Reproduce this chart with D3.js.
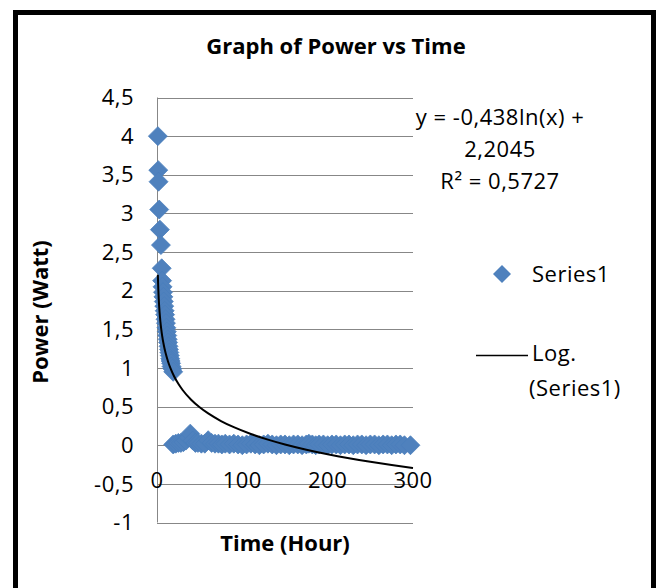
<!DOCTYPE html>
<html>
<head>
<meta charset="utf-8">
<title>Graph of Power vs Time</title>
<style>
  body { margin: 0; background: #fff; }
  text { font-family: "Open Sans", "Noto Sans", sans-serif; fill: #000; font-size: 22px; letter-spacing: 0.5px; }
  .grid line { stroke: #878787; stroke-width: 1px; }
  .title, .axisTitle { font-weight: bold; letter-spacing: 0; }
</style>
</head>
<body>
<script src="https://cdn.jsdelivr.net/npm/d3@7"></script>
<script>

// measured points: time (hour) and power (watt)
var timeTop  = [1, 1.5, 1.8, 2.6, 3.4, 4.6, 5.5];
var powerTop = [4, 3.56, 3.41, 3.05, 2.79, 2.59, 2.29];

var timeDrop  = [6, 6.5, 7, 7.5, 8, 8.5, 9, 9.5, 10, 10.5, 11, 11.5, 12, 12.5, 13, 13.5, 14, 14.5, 15, 15.5, 16, 16.5, 17, 18, 19];
var powerDrop = [2.13, 2.05, 1.98, 1.92, 1.86, 1.8, 1.74, 1.69, 1.63, 1.58, 1.52, 1.47, 1.42, 1.37, 1.33, 1.28, 1.24, 1.2, 1.16, 1.12, 1.09, 1.06, 1.02, 0.99, 0.95];

var timeFlat  = [19, 22, 25, 28, 31, 34, 37, 39, 42, 45, 48, 52, 56, 60, 64, 68, 72, 76, 80, 85, 90, 95, 100,
                 105, 110, 115, 120, 125, 130, 135, 140, 145, 150, 155, 160, 165, 170, 175, 178, 182, 186, 190,
                 195, 200, 205, 210, 215, 220, 225, 230, 235, 240, 245, 250, 255, 260, 265, 270, 275, 280, 285, 290, 297];
var powerFlat = [0.01, 0.02, 0.03, 0.03, 0.04, 0.06, 0.1, 0.15, 0.06, 0.03, 0.03, 0.02, 0.02, 0.065, 0.03, 0.02, 0.02, 0.01, 0.02, 0.01, 0.02, 0.01, 0,
                 0.01, 0.02, 0.01, 0, 0.01, 0.02, 0.01, 0, 0.01, 0.01, 0, 0.01, 0.01, 0, 0.01, 0.02, 0.01, 0, 0.01,
                 0.01, 0, 0.01, 0.01, 0, 0.01, 0.01, 0, 0.01, 0.01, 0, 0.01, 0.01, 0, 0.01, 0.01, 0, 0.01, 0.01, 0, 0];

// logarithmic trendline as shown on the chart
var trendA = -0.438, trendB = 2.2045;
var trendTimes = [1, 1.5, 2, 3, 4, 5, 6, 8, 10, 13, 16, 20, 25, 30, 40, 50, 60, 75, 90, 110, 130, 150, 175, 200, 225, 250, 275, 300];

var yTicks = [-1, -0.5, 0, 0.5, 1, 1.5, 2, 2.5, 3, 3.5, 4, 4.5];
var xTicks = [0, 100, 200, 300];
var equationLines = ["y = -0,438ln(x) +", "2,2045", "R² = 0,5727"];

var width = 659, height = 588;

var svg = d3.select("body").append("svg")
	.attr("width", width)
	.attr("height", height);

var x = d3.scaleLinear().domain([0, 300]).range([157, 413]);
var y = d3.scaleLinear().domain([-1, 4.5]).range([522.5, 97.5]);
var fmt = function(v){ return String(v).replace(".", ","); };

// outer frame
svg.append("rect")
	.attr("x", 15.5).attr("y", 12.5)
	.attr("width", 638).attr("height", 600)
	.style("fill", "none").style("stroke", "#000").style("stroke-width", 5);

svg.append("text").attr("class", "title")
	.attr("x", 336).attr("y", 54)
	.attr("text-anchor", "middle")
	.text("Graph of Power vs Time");

// gridlines
svg.append("g").attr("class", "grid").selectAll("line")
	.data(yTicks)
	.enter()
	.append("line")
	.attr("x1", x(0)).attr("x2", x(300))
	.attr("y1", function(d){ return Math.round(y(d)) + 0.5; })
	.attr("y2", function(d){ return Math.round(y(d)) + 0.5; });

// y axis line
svg.append("line")
	.attr("x1", x(0) + 0.5).attr("x2", x(0) + 0.5)
	.attr("y1", y(4.5)).attr("y2", y(-1))
	.style("stroke", "#878787");

// y tick labels
svg.append("g").selectAll("text")
	.data(yTicks)
	.enter()
	.append("text")
	.attr("x", 134)
	.attr("y", function(d){ return y(d); })
	.attr("dy", "0.35em")
	.attr("text-anchor", "end")
	.text(fmt);

// x tick labels
svg.append("g").selectAll("text")
	.data(xTicks)
	.enter()
	.append("text")
	.attr("x", function(d){ return x(d); })
	.attr("y", 480)
	.attr("dy", "0.35em")
	.attr("text-anchor", "middle")
	.text(function(d){ return d; });

svg.append("text").attr("class", "axisTitle")
	.attr("x", 285).attr("y", 551)
	.attr("text-anchor", "middle")
	.text("Time (Hour)");

svg.append("text").attr("class", "axisTitle")
	.attr("transform", "translate(48,312) rotate(-90)")
	.attr("text-anchor", "middle")
	.text("Power (Watt)");

// diamond markers
var points = [];
timeTop.forEach(function(t, i){ points.push([t, powerTop[i]]); });
timeDrop.forEach(function(t, i){ points.push([t, powerDrop[i]]); });
timeFlat.forEach(function(t, i){ points.push([t, powerFlat[i]]); });

var diamond = "M0,-9.5L9.5,0L0,9.5L-9.5,0Z";

svg.append("g").selectAll("path")
	.data(points)
	.enter()
	.append("path")
	.attr("d", diamond)
	.attr("transform", function(d){ return "translate(" + x(d[0]) + "," + y(d[1]) + ")"; })
	.style("fill", "#4F81BD")
	.style("stroke", "#4A7EBB")
	.style("stroke-width", 0.75);

// trendline
var line = d3.line()
	.curve(d3.curveMonotoneX)
	.x(function(t){ return x(t); })
	.y(function(t){ return y(trendA * Math.log(t) + trendB); });

svg.append("path")
	.datum(trendTimes)
	.attr("d", line)
	.style("fill", "none")
	.style("stroke", "#000")
	.style("stroke-width", 2);

// equation
svg.append("g").selectAll("text")
	.data(equationLines)
	.enter()
	.append("text")
	.attr("x", 500)
	.attr("y", function(d, i){ return 117 + i * 32; })
	.attr("dy", "0.35em")
	.attr("text-anchor", "middle")
	.text(function(d){ return d; });

// legend
svg.append("path")
	.attr("d", "M0,-9L9,0L0,9L-9,0Z")
	.attr("transform", "translate(502,274)")
	.style("fill", "#4F81BD");
svg.append("text")
	.attr("x", 532).attr("y", 274).attr("dy", "0.35em")
	.text("Series1");

svg.append("line")
	.attr("x1", 476).attr("x2", 528)
	.attr("y1", 355.5).attr("y2", 355.5)
	.style("stroke", "#000").style("stroke-width", 1.5);
svg.append("text")
	.attr("x", 532).attr("y", 353).attr("dy", "0.35em")
	.text("Log.");
svg.append("text")
	.attr("x", 529).attr("y", 388).attr("dy", "0.35em")
	.text("(Series1)");

</script>
</body>
</html>
